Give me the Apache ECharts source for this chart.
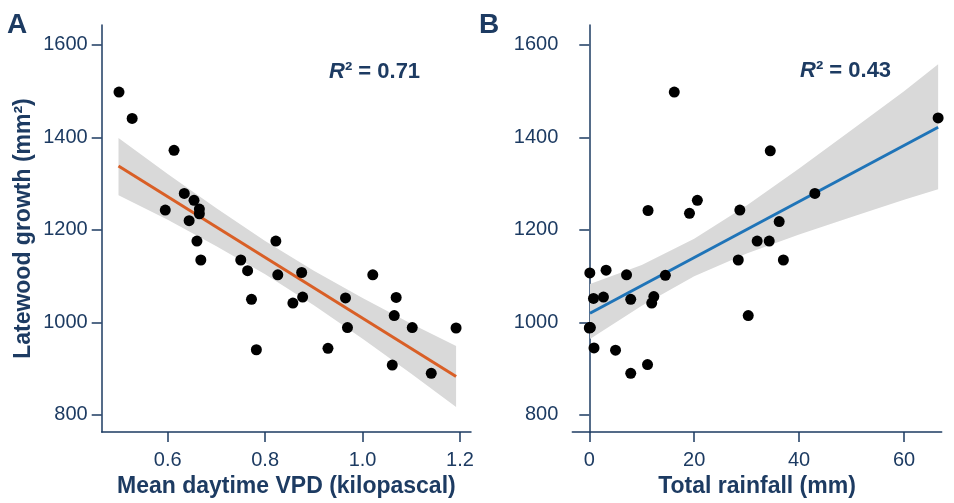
<!DOCTYPE html>
<html><head><meta charset="utf-8">
<script src="https://cdn.jsdelivr.net/npm/echarts@6/dist/echarts.min.js"></script>
<style>html,body{margin:0;padding:0;background:#fff}#c{width:954px;height:503px}</style>
</head><body><div id="c"></div>
<script>
// Panel A: latewood growth vs mean daytime VPD
const vpd = [0.500,0.527,0.613,0.634,0.654,0.665,0.665,0.595,0.644,0.660,0.668,0.750,0.764,0.822,0.826,0.875,1.021,0.772,0.857,0.877,0.965,1.069,1.065,0.969,1.102,1.192,0.782,0.929,1.061,1.141];
const growthA = [1498,1441,1372,1279,1264,1245,1235,1243,1220,1176,1135,1135,1112,1176,1103,1108,1103,1050,1042,1055,1053,1054,1015,989,989,988,941,944,908,890];
// Panel B: latewood growth vs total rainfall
const rainfall = [16.2,34.5,11.2,19.1,20.6,28.7,32.0,34.3,28.4,0.1,3.2,7.1,14.5,36.2,37.0,0.8,2.7,7.9,12.3,11.9,30.3,0.1,0.0,0.2,0.9,5.0,11.1,7.9,66.5,43.0];
const growthB = [1498,1371,1242,1236,1264,1243,1176,1176,1135,1107,1113,1103,1102,1218,1135,1052,1055,1050,1056,1042,1015,989,988,989,945,940,909,890,1442,1279];
// Fitted lines (end points)
const fitAx = [0.499, 1.192], fitAy = [1338, 883];
const fitBx = [0.13, 66.5], fitBy = [1020, 1422];
// Confidence bands
const bandAx = [0.499,0.6,0.7,0.8,0.9,1.0,1.1,1.192];
const bandAupper = [1399,1321,1247,1176,1112,1053,997,949];
const bandAlower = [1275,1222,1165,1104,1037,965,889,817];
const bandBx = [0.13,10,20,30,40,50,60,66.5];
const bandBupper = [1083,1124,1181,1253,1333,1416,1500,1558];
const bandBlower = [964,1036,1100,1149,1190,1228,1265,1288];
// Ticks
const yTicks = [800,1000,1200,1400,1600];
const xTicksA = [0.6,0.8,1.0,1.2];
const xTicksB = [0,20,40,60];

const navy = '#1d3b62';
const font = 'Liberation Sans';
const pairs = (xs, ys) => xs.map((x,i)=>[x, ys[i]]);

function yAxis(idx, showName){
  return {
    type:'value', gridIndex: idx, min: 763, max: 1643,
    name: showName ? 'Latewood growth (mm²)' : '', nameLocation:'middle', nameGap: 67,
    nameTextStyle:{color:navy, fontSize:23, fontFamily:font, fontWeight:'bold'},
    axisLine:{show:true, lineStyle:{color:navy, width:1.5}},
    axisTick:{show:true, length:10, customValues: yTicks, lineStyle:{color:navy, width:1.5}},
    axisLabel:{customValues: yTicks, color:navy, fontSize:20, fontFamily:font, margin:14,
      formatter: v => String(v)},
    splitLine:{show:false}
  };
}
function xAxis(idx, name, min, max, ticks, dec){
  return {
    type:'value', gridIndex: idx, min, max,
    name, nameLocation:'middle', nameGap: 41,
    nameTextStyle:{color:navy, fontSize:23, fontFamily:font, fontWeight:'bold'},
    axisLine:{show:true, onZero:false, lineStyle:{color:navy, width:1.5}},
    axisTick:{show:true, length:10, customValues: ticks, lineStyle:{color:navy, width:1.5}},
    axisLabel:{customValues: ticks, color:navy, fontSize:20, fontFamily:font, margin:18,
      formatter: v => v.toFixed(dec)},
    splitLine:{show:false}
  };
}
function band(idx, xs, up, lo){
  return {
    type:'custom', xAxisIndex:idx, yAxisIndex:idx, silent:true, z:1,
    data:[[xs[0], up[0]]],
    renderItem:(params, api) => {
      const pts = xs.map((x,i)=>api.coord([x, up[i]]))
        .concat(xs.map((x,i)=>api.coord([x, lo[i]])).reverse());
      return {type:'polygon', shape:{points:pts}, style:{fill:'#d9d9d9'}};
    }
  };
}
const rt = (txt) => ({text:txt, padding:0, textStyle:{rich:{
  i:{color:navy, fontSize:22, fontWeight:'bold', fontStyle:'italic', fontFamily:font},
  n:{color:navy, fontSize:22, fontWeight:'bold', fontFamily:font}}}});
const chart = echarts.init(document.getElementById('c'), null, {renderer:'canvas'});
chart.setOption({
  animation:false,
  title:[
    {text:'A', left:7, top:11, padding:0, textStyle:{color:navy, fontSize:28, fontWeight:'bold', fontFamily:font}},
    {text:'B', left:479, top:11, padding:0, textStyle:{color:navy, fontSize:28, fontWeight:'bold', fontFamily:font}},
    Object.assign(rt('{i|R}{n|² = 0.71}'), {left:329, top:61}),
    Object.assign(rt('{i|R}{n|² = 0.43}'), {left:800, top:60})
  ],
  grid:[
    {left:101.7, right:483, top:25, bottom:69},
    {left:572.3, right:12.3, top:25, bottom:69}
  ],
  xAxis:[
    xAxis(0, 'Mean daytime VPD (kilopascal)', 0.4645, 1.2226, xTicksA, 1),
    xAxis(1, 'Total rainfall (mm)', -3.24, 67.18, xTicksB, 0)
  ],
  yAxis:[yAxis(0, true), yAxis(1, false)],
  series:[
    band(0, bandAx, bandAupper, bandAlower),
    band(1, bandBx, bandBupper, bandBlower),
    {type:'line', xAxisIndex:0, yAxisIndex:0, data: pairs(fitAx, fitAy), symbol:'none',
     lineStyle:{color:'#d95f26', width:3}, z:3},
    {type:'line', xAxisIndex:1, yAxisIndex:1, data: pairs(fitBx, fitBy), symbol:'none',
     lineStyle:{color:'#1f74b8', width:3}, z:3},
    {type:'scatter', xAxisIndex:0, yAxisIndex:0, data: pairs(vpd, growthA), symbolSize:11,
     itemStyle:{color:'#000', opacity:1}, z:5},
    {type:'scatter', xAxisIndex:1, yAxisIndex:1, data: pairs(rainfall, growthB), symbolSize:11,
     itemStyle:{color:'#000', opacity:1}, z:5}
  ]
});
</script></body></html>
